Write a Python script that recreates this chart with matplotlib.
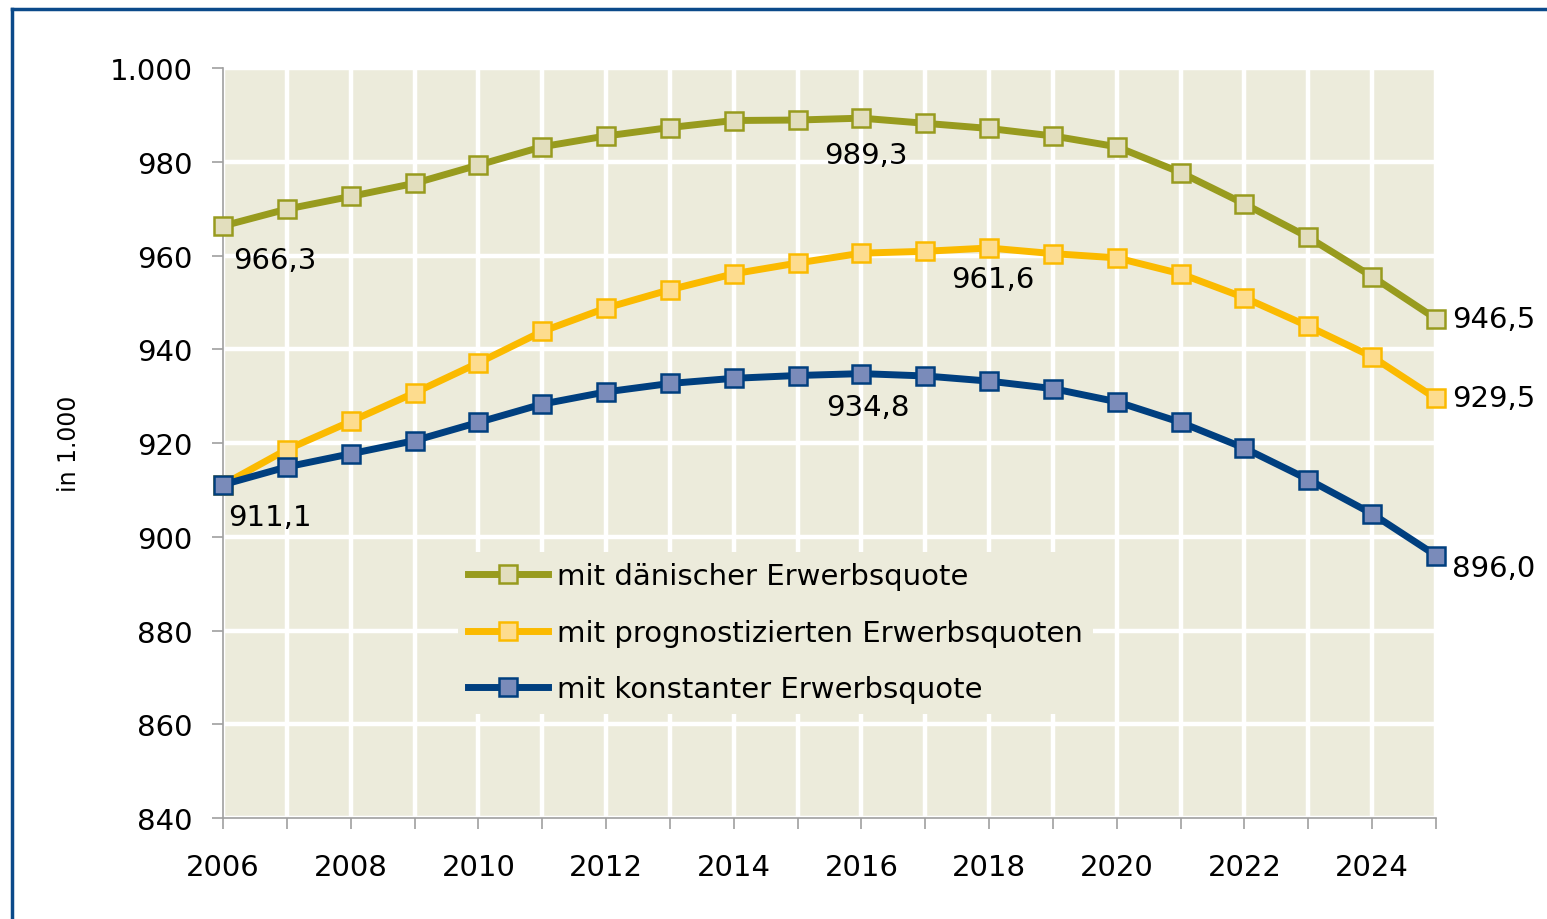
import matplotlib
matplotlib.use("Agg")
import matplotlib.pyplot as plt
from matplotlib.lines import Line2D

plt.rcParams['font.family'] = ['DejaVu Sans']

years = list(range(2006, 2026))
daenisch = [966.3, 969.9, 972.6, 975.4, 979.3, 983.2, 985.5, 987.3, 988.8, 988.9,
            989.3, 988.2, 987.1, 985.5, 983.2, 977.7, 971.0, 963.9, 955.5, 946.5]
prognose = [911.1, 918.6, 924.6, 930.7, 937.1, 943.8, 948.8, 952.7, 956.1, 958.4,
            960.5, 960.9, 961.6, 960.4, 959.5, 956.1, 951.0, 944.9, 938.4, 929.5]
konstant = [911.1, 914.9, 917.7, 920.5, 924.4, 928.3, 930.9, 932.7, 933.8, 934.4,
            934.8, 934.3, 933.2, 931.6, 928.8, 924.4, 918.9, 912.2, 904.9, 896.0]
labels = ["mit dänischer Erwerbsquote", "mit prognostizierten Erwerbsquoten",
          "mit konstanter Erwerbsquote"]
yticks = [840, 860, 880, 900, 920, 940, 960, 980, 1000]
ytick_labels = ["840", "860", "880", "900", "920", "940", "960", "980", "1.000"]

bg = '#ECEBDB'
fig = plt.figure(figsize=(15.47, 9.2), dpi=100)
ax = fig.add_axes([223/1547, 1-819/920, (1436-223)/1547, (819-69)/920])
ax.set_facecolor(bg)

styles = [
    dict(color='#989B1E', mfc='#E2DEBD', mec='#989B1E'),
    dict(color='#FBBA00', mfc='#FDDC8E', mec='#FBBA00'),
    dict(color='#003F7F', mfc='#7A8BBA', mec='#003F7F'),
]
series = [daenisch, prognose, konstant]
for s, lab, st in zip(series, labels, styles):
    ax.plot(years, s, color=st['color'], lw=5, marker='s', ms=13,
            mfc=st['mfc'], mec=st['mec'], mew=1.8, label=lab, zorder=3,
            solid_joinstyle='round', clip_on=False)

ax.set_xlim(2006, 2025)
ax.set_ylim(840, 1000)
ax.set_xticks(years)
ax.set_xticklabels([str(y) if y % 2 == 0 else "" for y in years])
ax.set_yticks(yticks)
ax.set_yticklabels(ytick_labels)
ax.grid(True, color='white', lw=3.2, zorder=0)
ax.set_axisbelow(True)
for sp in ['top', 'right']:
    ax.spines[sp].set_visible(False)
for sp in ['left', 'bottom']:
    ax.spines[sp].set_color('#A0A0A0')
    ax.spines[sp].set_linewidth(1.2)
    ax.spines[sp].set_zorder(1)
ax.tick_params(axis='both', direction='out', length=8, width=1.2, color='#A0A0A0',
               labelsize=21, labelcolor='black')
ax.tick_params(axis='x', pad=17)
ax.tick_params(axis='y', pad=14)
ax.set_ylabel("in 1.000", fontsize=17)
ax.yaxis.set_label_coords(-0.117, 0.5)

def fmt(v):
    return f"{v:.1f}".replace('.', ',')

ann = [
    (daenisch, 0, (10, -34), 'left'),
    (konstant, 0, (5, -32), 'left'),
    (daenisch, 10, (4, -37), 'center'),
    (prognose, 12, (4, -31), 'center'),
    (konstant, 10, (6, -33), 'center'),
    (daenisch, 19, (16, 0), 'left'),
    (prognose, 19, (16, 0), 'left'),
    (konstant, 19, (16, -12), 'left'),
]
for s, i, off, ha in ann:
    ax.annotate(fmt(s[i]), (years[i], s[i]), xytext=off, textcoords='offset pixels',
                ha=ha, va='center', fontsize=21, zorder=5, annotation_clip=False)

leg = ax.legend(loc='upper left', bbox_to_anchor=(458/1547, 1-553/920),
                bbox_transform=fig.transFigure, fontsize=21, frameon=True,
                facecolor=bg, edgecolor='none', framealpha=1, fancybox=False,
                handlelength=2.75, handletextpad=0.3, labelspacing=0.98,
                borderpad=0.35, borderaxespad=0)
leg.set_zorder(4)

# outer frame
fig.add_artist(Line2D([12/1547, 12/1547], [0, 1-10/920], color='#0B4A8A', lw=2.5,
                      transform=fig.transFigure))
fig.add_artist(Line2D([12/1547, 1], [1-10/920, 1-10/920], color='#0B4A8A', lw=2.5,
                      transform=fig.transFigure))

fig.savefig("out.png", dpi=100, facecolor='white')
